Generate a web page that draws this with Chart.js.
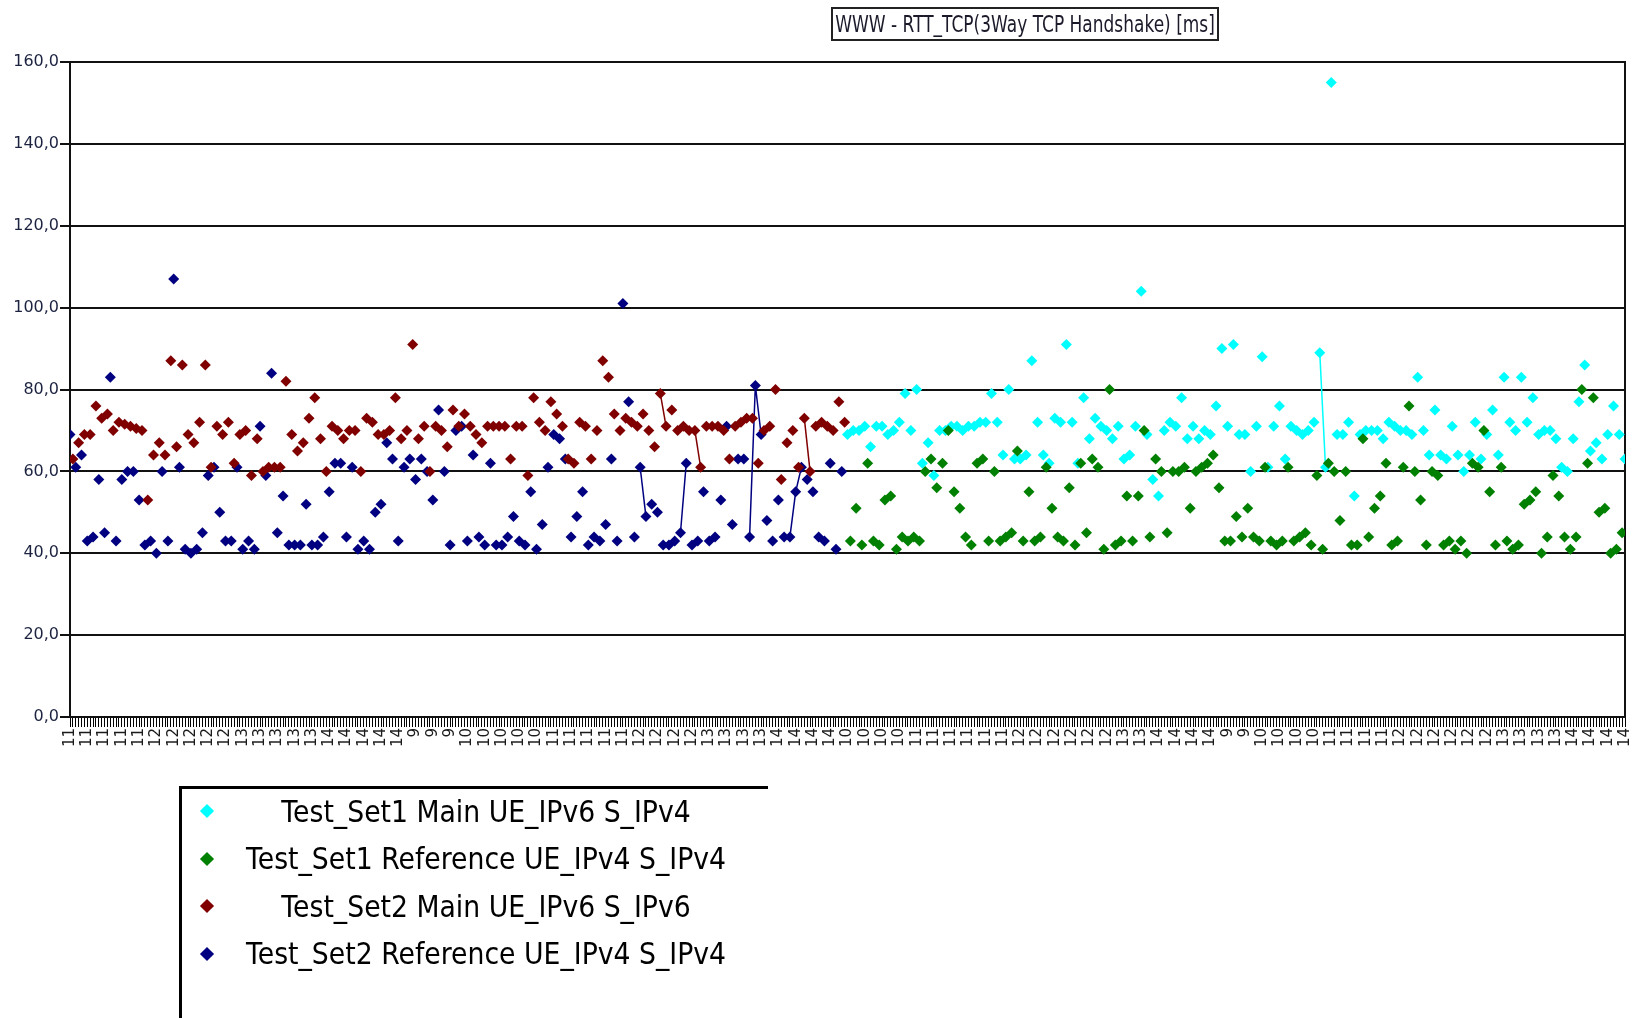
<!DOCTYPE html>
<html>
<head>
<meta charset="utf-8">
<title>WWW - RTT_TCP(3Way TCP Handshake) [ms]</title>
<script src="https://cdn.jsdelivr.net/npm/chart.js@4.4.1/dist/chart.umd.min.js"></script>
<style>
    html, body { margin: 0; padding: 0; background: #fff; overflow: hidden; }
    #wrap { position: relative; width: 1634px; height: 1018px; }
    #chartBox { position: absolute; left: 0; top: 0; width: 1634px; height: 1018px; }
    #title {
        position: absolute; left: 831px; top: 7px; width: 384px; height: 30px;
        border: 2px solid #222; text-align: center; line-height: 30px;
        font-family: "DejaVu Sans", sans-serif; font-size: 17px; color: #1a1a2a;
    }
    #title span { display: inline-block; transform: scaleY(1.3); }
    #legend {
        position: absolute; left: 179px; top: 786px; width: 586px; height: 240px;
        border-top: 3px solid #000; border-left: 3px solid #000;
    }
    .row { position: absolute; left: 0; width: 608px; height: 47px; }
    .mark { position: absolute; left: 20px; top: 18.5px; width: 10px; height: 10px; transform: rotate(45deg); }
    .txt {
        position: absolute; left: 0; top: 0; width: 608px; text-align: center;
        line-height: 47px; font-family: "DejaVu Sans", sans-serif; font-size: 26.7px; color: #000;
        white-space: nowrap;
    }
    .txt span { display: inline-block; transform: scaleY(1.12); }
</style>
</head>
<body>
<div id="wrap">
    <div id="chartBox"><canvas id="rttChart"></canvas></div>
    <div id="title"><span>WWW - RTT_TCP(3Way TCP Handshake) [ms]</span></div>
    <div id="legend"></div>
</div>
<script>
// hour of each labelled tick (one label every 6 samples)
const xLabels = [
    '11','11','11','11','11','12','12','12','12','12',
    '13','13','13','13','13','14','14','14','14','14',
    '9','9','9','10','10','10','10','10','11','11',
    '11','11','11','12','12','12','12','13','13','13',
    '13','14','14','14','14',
    '10','10','10','10','11','11','11','11','11','11',
    '12','12','12','12','12','12','13','13','14','14',
    '14','14','9','9','10','10','10','10','11','11',
    '11','11','12','12','12','12','12','12','13','13',
    '13','13','14','14','14','14'
];

// RTT in ms, in sample order
const set1MainValues = [
    69,70,70,71,66,71,71,69,70,72, 79,70,80,62,67,59,70,70,71,71,
    70,71,71,72,72,79,72,64,80,63, 63,64,87,72,64,62,73,72,91,72,
    62,78,68,73,71,70,68,71,63,64, 71,104,69,58,54,70,72,71,78,68,
    71,68,70,69,76,90,71,91,69, 69,60,71,88,61,71,76,63,71,70,69,
    70,72,89,61,155,69,69,72,54,69, 70,70,70,68,72,71,70,70,69,83,
    70,64,75,64,63,71,64,60,64,72, 63,69,75,64,83,72,70,83,72,78,
    69,70,70,68,61,60,68,77,86,65, 67,63,69,76,69,63
];
const set1RefValues = [
    43,51,42,62,43,42,53,54,41,44, 43,44,43,60,63,56,62,70,55,51,
    44,42,62,63,43,60,43,44,45,65, 43,55,43,44,61,51,44,43,56,42,
    62,45,63,61,41,80,42,43,54,43, 54,70,44,63,60,45,60,60,61,51,
    60,61,62,64,56,43,43,49,44, 51,44,43,61,43,42,43,61,43,44,45,
    42,59,41,62,60,48,60,42,42,68, 44,51,54,62,42,43,61,76,60,53,
    42,60,59,42,43,41,43,40,62,61, 70,55,42,61,43,41,42,52,53,55,
    40,44,59,54,44,41,44,80,62,78, 50,51,40,41,45
];
const set2MainValues = [
    63,67,69,69,76,73,74,70,72,71.5, 71,70.5,70,53,64,67,64,87,66,86,
    69,67,72,86,61,71,69,72,62,69, 70,59,68,60,61,61,61,82,69,65,
    67,73,78,68,60,71,70,68,70,70, 60,73,72,69,69,70,78,68,70,91,
    68,71,60,71,70,66,75,71, 74,71, 69,67,71,71,71,71,63,71,71,59,
    78,72,70,77,74,71,63,62,72,71, 63,70,87,83,74,70,73,72,71,74,
    70,66,79,71,75,70,71,70,70,61, 71,71,71,70,63,71,72,73,73,62,
    70,71,80,58,67,70,61,73,60,71, 72,71,70,77,72
];
const set2RefValues = [
    69,61,64,43,44,58,45,83,43,58, 60,60,53,42,43,40,60,43,107,61,
    41,40,41,45,59,61,50,43,43,61, 41,43,41,71,59,84,45,54,42,42,
    42,52,42,42,44,55,62,62,44,61, 41,43,41,50,52,67,63,43,61,63,
    58,63,60,53,75,60,42, 70,71,43, 64,44,42,62,42,42,44,49,43,42,
    55,41,47,61,69,68,63,44,49,55, 42,44,43,47,63,43,101,77,44,61,
    49,52,50,42,42,43,45,62,42,43, 55,43,44,53,71,47,63,63,44,81,
    69,48,43,53,44,44,55,61,58,55, 44,43,62,41,60
];

// samples that are joined to the next one by a line (back-to-back measurements)
const set1MainJoins = [82];
const set1RefJoins = [];
const set2MainJoins = [102, 108, 127];
const set2RefJoins = [99, 106, 118, 119, 125, 126];

const seriesNames = [
    'Test_Set1 Main UE_IPv6 S_IPv4',
    'Test_Set1 Reference UE_IPv4 S_IPv4',
    'Test_Set2 Main UE_IPv6 S_IPv6',
    'Test_Set2 Reference UE_IPv4 S_IPv4'
];
const seriesColors = ['#00ffff', '#008000', '#800000', '#000080'];

const SAMPLES_PER_LABEL = 6;
const SET2_FIRST = 0;
const SET1_FIRST = 270;
const LAST_SAMPLE = 540;

// the two series of a test set take turns on the sample axis
function toPoints(values, first) {
    return values.map((v, i) => ({ x: first + i * 2, y: v }));
}

function makeDataset(idx, values, first, joins, order) {
    const color = seriesColors[idx];
    return {
        label: seriesNames[idx],
        data: toPoints(values, first),
        showLine: true,
        borderColor: color,
        borderWidth: 1.5,
        backgroundColor: color,
        pointStyle: 'rectRot',
        pointRadius: 5.5,
        pointBorderWidth: 0,
        pointBackgroundColor: color,
        order: order,
        segment: {
            borderColor: ctx => joins.includes(ctx.p0DataIndex) ? color : 'rgba(0,0,0,0)'
        }
    };
}

function buildLegend() {
    const box = document.getElementById('legend');
    seriesNames.forEach((name, i) => {
        const row = document.createElement('div');
        row.className = 'row';
        row.style.top = (i * 47.5 - 1.5) + 'px';
        row.innerHTML = '<div class="mark" style="background:' + seriesColors[i] + '"></div>' +
            '<div class="txt"><span>' + name + '</span></div>';
        box.appendChild(row);
    });
}

document.addEventListener('DOMContentLoaded', () => {
    buildLegend();

    const ctx = document.getElementById('rttChart').getContext('2d');
    new Chart(ctx, {
        type: 'scatter',
        data: {
            datasets: [
                makeDataset(0, set1MainValues, SET1_FIRST, set1MainJoins, 2),
                makeDataset(1, set1RefValues, SET1_FIRST + 1, set1RefJoins, 1),
                makeDataset(2, set2MainValues, SET2_FIRST + 1, set2MainJoins, 0),
                makeDataset(3, set2RefValues, SET2_FIRST, set2RefJoins, 3)
            ]
        },
        options: {
            responsive: true,
            maintainAspectRatio: false,
            animation: false,
            layout: { padding: { top: 62, right: 9, bottom: 261, left: 0 } },
            plugins: {
                legend: { display: false },
                tooltip: { enabled: false }
            },
            scales: {
                x: {
                    type: 'linear',
                    min: 0,
                    max: LAST_SAMPLE,
                    ticks: {
                        stepSize: 1,
                        autoSkip: false,
                        maxRotation: 90,
                        minRotation: 90,
                        padding: 1,
                        color: '#1a1a1a',
                        font: { family: 'DejaVu Sans', size: 15 },
                        callback: v => v % SAMPLES_PER_LABEL === 0 ? xLabels[v / SAMPLES_PER_LABEL] : ''
                    },
                    grid: { drawOnChartArea: false, drawTicks: true, tickLength: 10, color: '#000', lineWidth: 1 },
                    border: { color: '#111', width: 2 },
                    afterFit: s => {
                        s.height = 40;
                        s.paddingLeft = 0;
                        s.paddingRight = 0;
                    }
                },
                y: {
                    min: 0,
                    max: 160,
                    ticks: {
                        stepSize: 20,
                        padding: 1,
                        color: '#1c2340',
                        font: { family: 'DejaVu Sans', size: 16 },
                        callback: v => v.toFixed(1).replace('.', ',')
                    },
                    grid: { color: '#111', lineWidth: 2, tickLength: 10 },
                    border: { color: '#111', width: 2 },
                    afterFit: s => { s.width = 70; }
                },
                y2: {
                    position: 'right',
                    ticks: { display: false },
                    grid: { drawOnChartArea: false, drawTicks: false },
                    border: { color: '#111', width: 2 },
                    afterFit: s => { s.width = 0; }
                }
            }
        }
    });
});
</script>
</body>
</html>
